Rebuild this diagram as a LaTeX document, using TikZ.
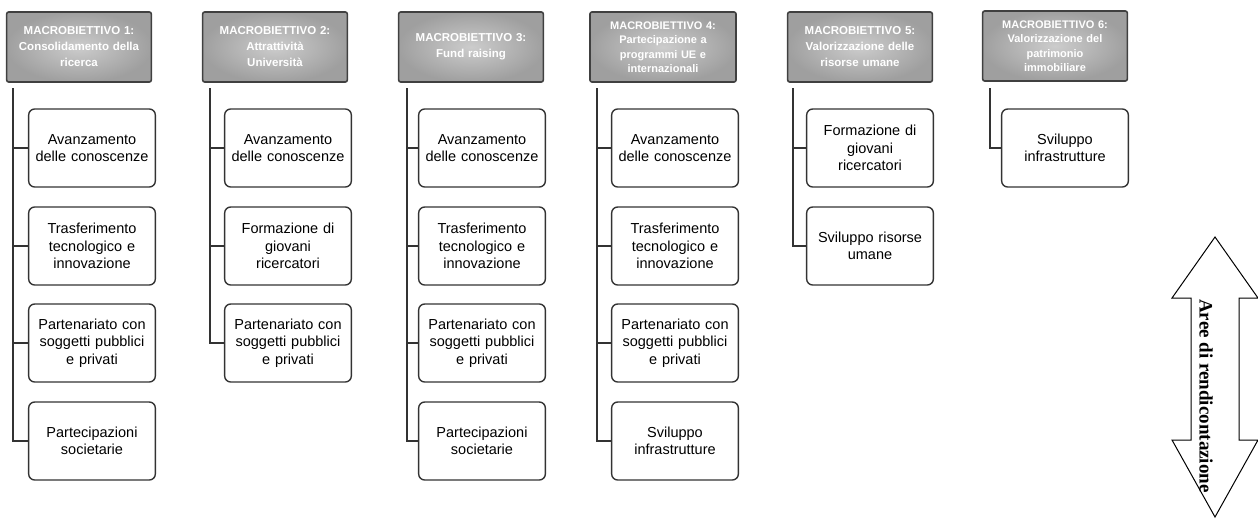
\documentclass[tikz,border=0pt]{standalone}
\usepackage{fontspec}
\setmainfont{Liberation Sans}
\newfontfamily\arrowfont{Liberation Serif}

\begin{document}
\begin{tikzpicture}[x=1pt,y=-1pt,
    macro/.style={draw=black!75,line width=1.6pt,rounded corners=2pt,
        inner color=gray!40,outer color=gray!75,
        minimum width=140pt,minimum height=70pt,text width=138pt,align=center,
        text=white,font=\fontsize{11.5}{16}\selectfont\bfseries},
    area/.style={draw=black!80,line width=1.4pt,rounded corners=6pt,fill=white,
        minimum width=122pt,minimum height=78pt,text width=120pt,align=center,
        font=\fontsize{14.5}{17.5}\selectfont},
    link/.style={draw=black!80,line width=2.2pt}
]
    \useasboundingbox (0,0) rectangle (1258,519);

    \node[macro] (m1) at (79,47) {MACROBIETTIVO 1:\\Consolidamento della\\ricerca};
    \node[macro] (m2) at (275,47) {MACROBIETTIVO 2:\\Attrattività\\Università};
    \node[macro] (m3) at (471,47) {MACROBIETTIVO 3:\\Fund raising};
    \node[macro,minimum width=146pt,font=\fontsize{11}{14.5}\selectfont\bfseries]
        (m4) at (663,47) {MACROBIETTIVO 4:\\Partecipazione a\\programmi UE e\\internazionali};
    \node[macro] (m5) at (860,47) {MACROBIETTIVO 5:\\Valorizzazione delle\\risorse umane};
    \node[macro,font=\fontsize{11}{14.5}\selectfont\bfseries]
        (m6) at (1055,46) {MACROBIETTIVO 6:\\Valorizzazione del\\patrimonio\\immobiliare};

    \coordinate (s1) at (13,88);
    \coordinate (s2) at (210,88);
    \coordinate (s3) at (407,88);
    \coordinate (s4) at (597,88);
    \coordinate (s5) at (793,88);
    \coordinate (s6) at (990,88);

    % macrobiettivo 1
    \node[area] (a11) at (92,148) {Avanzamento\\delle conoscenze};
    \node[area] (a12) at (92,246) {Trasferimento\\tecnologico e\\innovazione};
    \node[area] (a13) at (92,343) {Partenariato con\\soggetti pubblici\\e privati};
    \node[area] (a14) at (92,441) {Partecipazioni\\societarie};

    % macrobiettivo 2
    \node[area] (a21) at (288,148) {Avanzamento\\delle conoscenze};
    \node[area] (a22) at (288,246) {Formazione di\\giovani\\ricercatori};
    \node[area] (a23) at (288,343) {Partenariato con\\soggetti pubblici\\e privati};

    % macrobiettivo 3
    \node[area] (a31) at (482,148) {Avanzamento\\delle conoscenze};
    \node[area] (a32) at (482,246) {Trasferimento\\tecnologico e\\innovazione};
    \node[area] (a33) at (482,343) {Partenariato con\\soggetti pubblici\\e privati};
    \node[area] (a34) at (482,441) {Partecipazioni\\societarie};

    % macrobiettivo 4
    \node[area] (a41) at (675,148) {Avanzamento\\delle conoscenze};
    \node[area] (a42) at (675,246) {Trasferimento\\tecnologico e\\innovazione};
    \node[area] (a43) at (675,343) {Partenariato con\\soggetti pubblici\\e privati};
    \node[area] (a44) at (675,441) {Sviluppo\\infrastrutture};

    % macrobiettivo 5 e 6
    \node[area] (a51) at (870,148) {Formazione di\\giovani\\ricercatori};
    \node[area] (a52) at (870,246) {Sviluppo risorse\\umane};
    \node[area] (a61) at (1065,148) {Sviluppo\\infrastrutture};

    \foreach \s/\a in {s1/a11,s1/a12,s1/a13,s1/a14,s2/a21,s2/a22,s2/a23,
        s3/a31,s3/a32,s3/a33,s3/a34,s4/a41,s4/a42,s4/a43,s4/a44,
        s5/a51,s5/a52,s6/a61}
        \draw[link] (\s) |- (\a.west);

    % freccia aree di rendicontazione
    \draw[line width=1pt,fill=white] (1215,237) -- (1258,298) -- (1239,298)
        -- (1239,440) -- (1258,440) -- (1215,517) -- (1172,440) -- (1191,440)
        -- (1191,298) -- (1172,298) -- cycle;
    \node[rotate=-90,font=\arrowfont\fontsize{19}{21}\selectfont\bfseries]
        (aree) at (1206,396) {Aree di rendicontazione};
\end{tikzpicture}
\end{document}
